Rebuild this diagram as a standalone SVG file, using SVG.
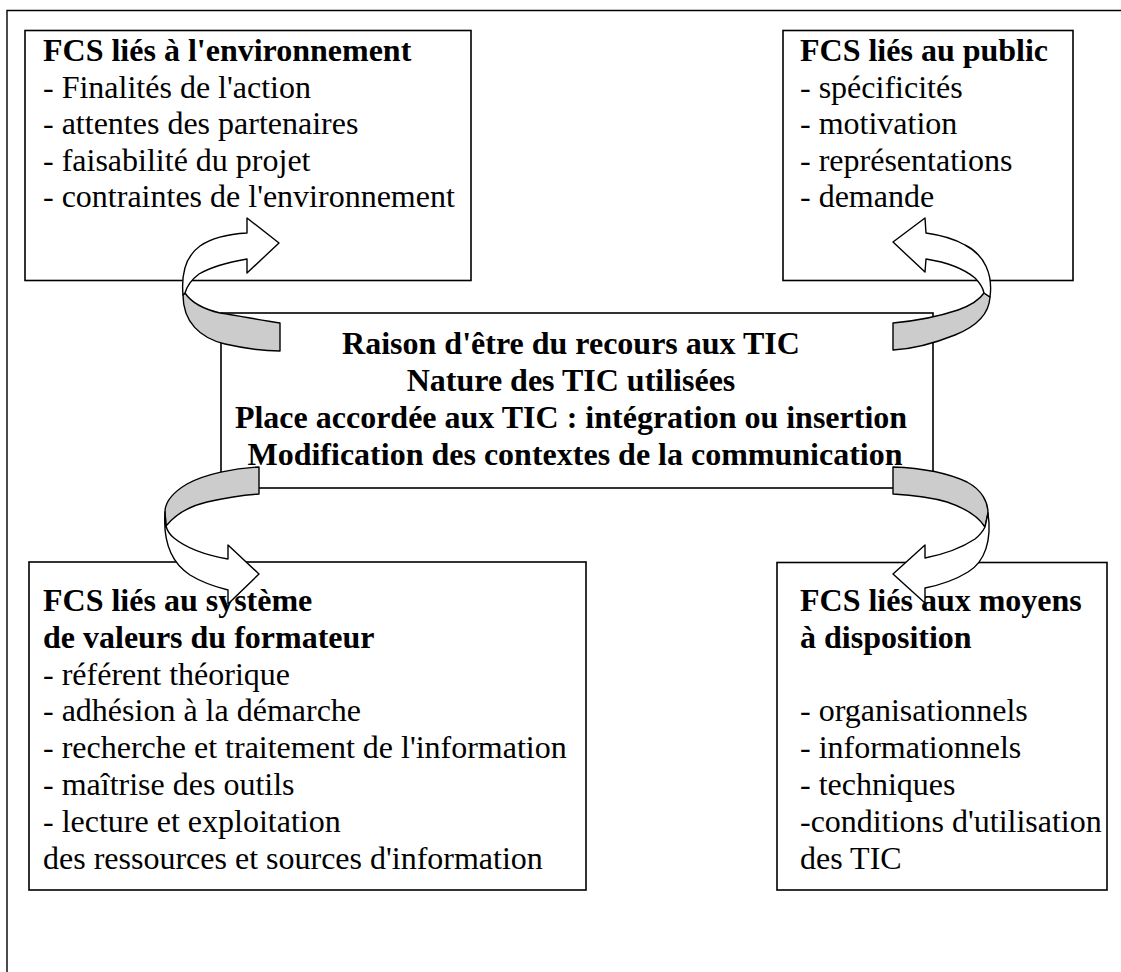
<svg xmlns="http://www.w3.org/2000/svg" width="1121" height="972" viewBox="0 0 1121 972">
  <style>
    .frame { fill: none; stroke: #000; stroke-width: 1.4; }
    .box { fill: #fff; stroke: #000; stroke-width: 1.6; }
    .t { font-family: "Liberation Serif", "Times New Roman", serif; font-size: 32px; fill: #000; }
    .b { font-weight: bold; }
    .mid { text-anchor: middle; }
    .back { fill: #cccccc; stroke: #000; stroke-width: 1.4; stroke-linejoin: round; }
    .front { fill: #fff; stroke: #000; stroke-width: 1.4; stroke-linejoin: round; }
  </style>

  <rect width="1121" height="972" fill="#fff"/>

  <!-- page frame: right and bottom edges lie outside the visible area -->
  <path class="frame" d="M7,972 V10.5 H1121"/>

  <g id="node-environnement">
    <rect class="box" x="25" y="30.5" width="446" height="250"/>
    <text class="t">
      <tspan class="b" x="43" y="61">FCS liés à l'environnement</tspan>
      <tspan x="43" y="97.5">- Finalités de l'action</tspan>
      <tspan x="43" y="134">- attentes des partenaires</tspan>
      <tspan x="43" y="170.5">- faisabilité du projet</tspan>
      <tspan x="43" y="207">- contraintes de l'environnement</tspan>
    </text>
  </g>

  <g id="node-public">
    <rect class="box" x="783" y="30.5" width="290" height="250"/>
    <text class="t">
      <tspan class="b" x="800" y="61">FCS liés au public</tspan>
      <tspan x="800" y="97.5">- spécificités</tspan>
      <tspan x="800" y="134">- motivation</tspan>
      <tspan x="800" y="170.5">- représentations</tspan>
      <tspan x="800" y="207">- demande</tspan>
    </text>
  </g>

  <g id="node-tic">
    <rect class="box" x="221" y="313" width="712" height="175"/>
    <text class="t b mid">
      <tspan x="575" y="354">Raison d'être du recours aux TIC</tspan>
      <tspan x="575" y="391">Nature des TIC utilisées</tspan>
      <tspan x="575" y="428">Place accordée aux TIC : intégration ou insertion</tspan>
      <tspan x="575" y="465">Modification des contextes de la communication</tspan>
    </text>
  </g>

  <g id="node-formateur">
    <rect class="box" x="29" y="562" width="557" height="328"/>
    <text class="t">
      <tspan class="b" x="43" y="611">FCS liés au système</tspan>
      <tspan class="b" x="43" y="648">de valeurs du formateur</tspan>
      <tspan x="43" y="684.5">- référent théorique</tspan>
      <tspan x="43" y="721">- adhésion à la démarche</tspan>
      <tspan x="43" y="758">- recherche et traitement de l'information</tspan>
      <tspan x="43" y="795">- maîtrise des outils</tspan>
      <tspan x="43" y="832">- lecture et exploitation</tspan>
      <tspan x="43" y="868.5">des ressources et sources d'information</tspan>
    </text>
  </g>

  <g id="node-moyens">
    <rect class="box" x="777" y="562.5" width="330" height="327.5"/>
    <text class="t">
      <tspan class="b" x="800" y="611">FCS liés aux moyens</tspan>
      <tspan class="b" x="800" y="648">à disposition</tspan>
      <tspan x="800" y="721">- organisationnels</tspan>
      <tspan x="800" y="758">- informationnels</tspan>
      <tspan x="800" y="794.5">- techniques</tspan>
      <tspan x="800" y="831.5">-conditions d'utilisation</tspan>
      <tspan x="800" y="868.5">des TIC</tspan>
    </text>
  </g>

  <!-- twisted ribbon arrows linking the centre box with the four corner boxes -->
  <g id="connectors">
    <!-- centre to environment (upper left) -->
    <g id="arrow-environnement">
      <path class="back" d="M183,295 C183,322 200,338 225,344 C243,348 262,351 280,351 L280,323 C260,320 240,316 220,313 C203,309 191,302 185,293 Z"/>
      <path class="front" d="M183,295 C181,272 186,256 200,246 C213,237 230,234 247,233 L247,218 L279,243 L247,273 L247,259 C230,262 211,267 199,274 C191,280 187,286 185,293 Z"/>
    </g>
    <!-- centre to public (upper right) -->
    <g id="arrow-public">
      <path class="back" d="M990,297 C989,315 975,327 955,335 C935,343 913,349 893,350 L893,323 C915,321 940,316 958,310 C972,305 980,299 984,293 Z"/>
      <path class="front" d="M990,297 C993,275 985,255 965,245 C953,238 940,235 926,233 L925,218 L893,242 L925,272 L926,259 C945,262 963,268 975,278 C980,283 983,288 984,293 Z"/>
    </g>
    <!-- centre to trainer values (lower left) -->
    <g id="arrow-formateur">
      <path class="back" d="M259,467 C235,468 205,474 187,484 C172,493 165,503 165,512 L166,526 C175,515 190,506 207,502 C225,498 243,495 259,494 Z"/>
      <path class="front" d="M165,512 C163,540 170,562 190,575 C203,583 216,587 228,590 L228,604 L259,574 L228,545 L228,559 C205,555 185,547 174,538 C169,534 167,530 166,526 Z"/>
    </g>
    <!-- centre to available means (lower right) -->
    <g id="arrow-moyens">
      <path class="back" d="M893,467 C920,468 948,473 967,482 C982,490 988,502 988,513 L985,527 C978,516 965,508 947,502 C930,497 910,495 893,494 Z"/>
      <path class="front" d="M988,513 C992,540 985,562 968,572 C955,580 940,585 925,588 L925,603 L893,574 L925,545 L925,558 C945,554 963,547 975,539 C980,535 983,531 985,527 Z"/>
    </g>
  </g>
</svg>
